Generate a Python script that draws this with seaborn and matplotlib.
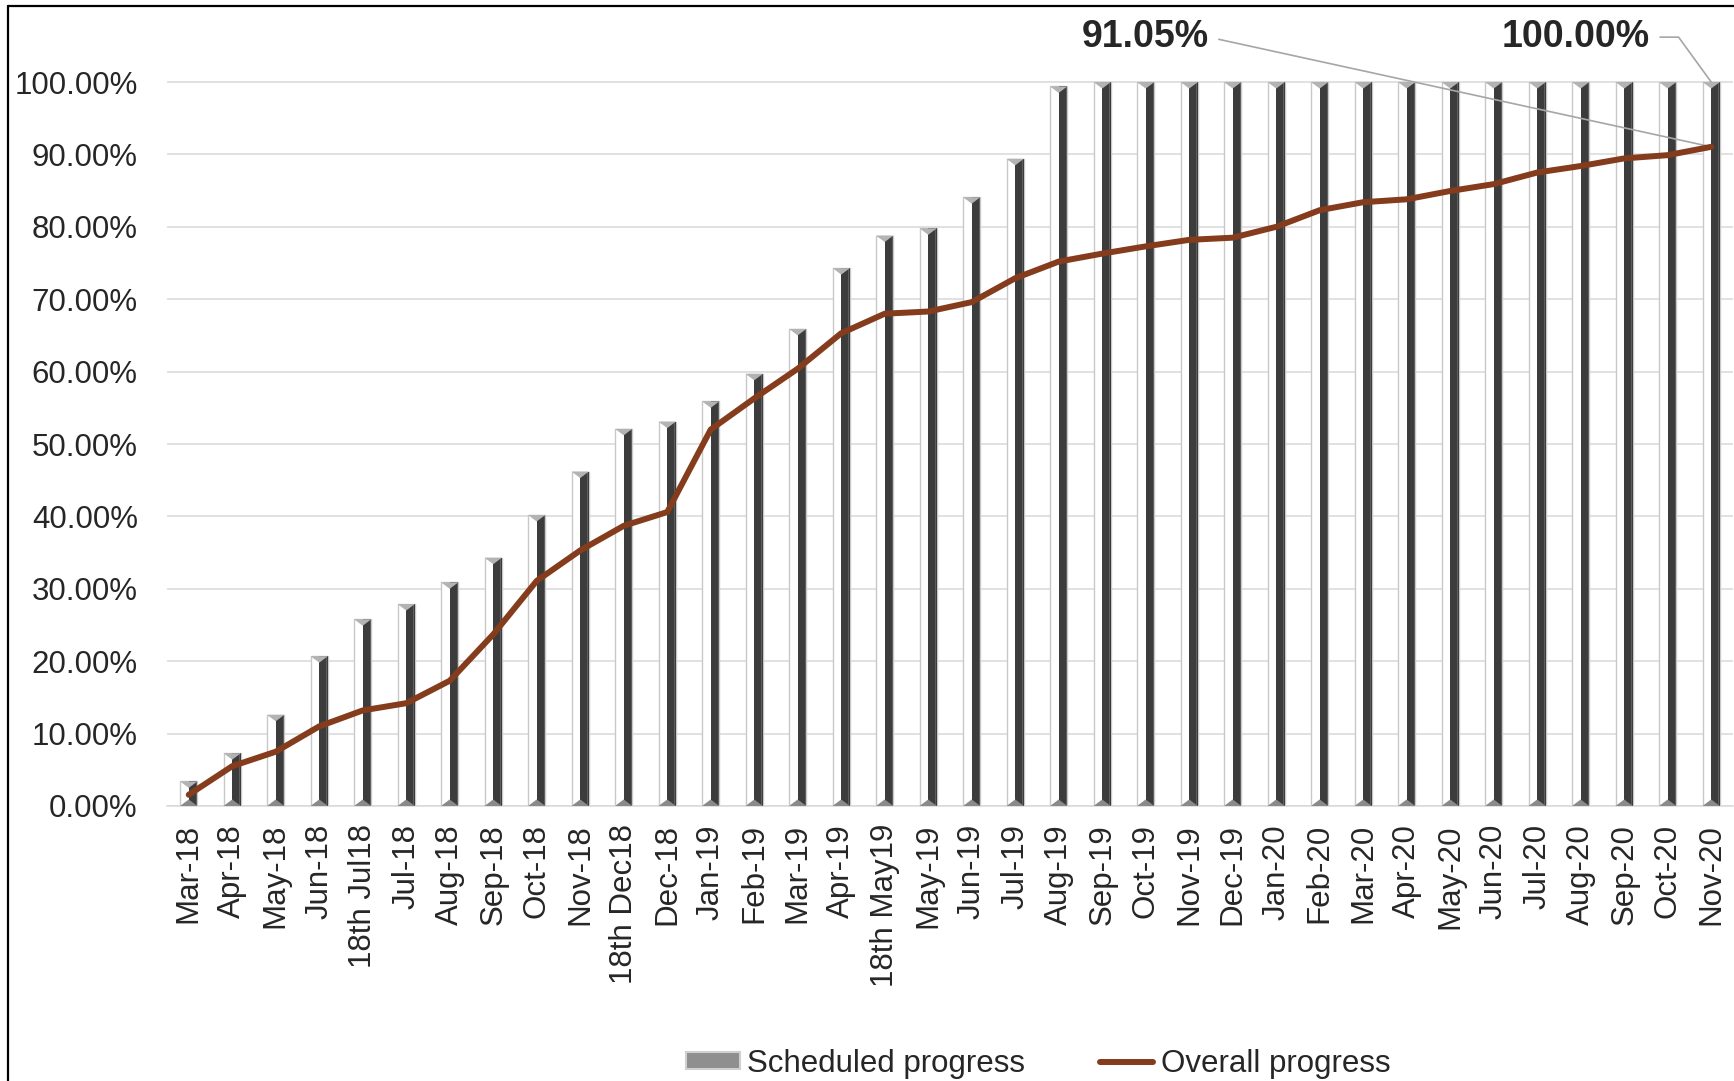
import numpy as np
import pandas as pd
import matplotlib
matplotlib.use("Agg")
import matplotlib.pyplot as plt
from matplotlib.patches import Polygon, Patch
from matplotlib.lines import Line2D
from matplotlib.ticker import PercentFormatter
import seaborn as sns

# Monthly progress report data
months = [
    "Mar-18", "Apr-18", "May-18", "Jun-18", "18th Jul18", "Jul-18", "Aug-18",
    "Sep-18", "Oct-18", "Nov-18", "18th Dec18", "Dec-18", "Jan-19", "Feb-19",
    "Mar-19", "Apr-19", "18th May19", "May-19", "Jun-19", "Jul-19", "Aug-19",
    "Sep-19", "Oct-19", "Nov-19", "Dec-19", "Jan-20", "Feb-20", "Mar-20",
    "Apr-20", "May-20", "Jun-20", "Jul-20", "Aug-20", "Sep-20", "Oct-20", "Nov-20",
]
scheduled = [
    0.034, 0.073, 0.126, 0.207, 0.258, 0.279, 0.309, 0.343, 0.402, 0.462,
    0.521, 0.531, 0.559, 0.597, 0.659, 0.743, 0.788, 0.798, 0.841, 0.894,
    0.994, 1.0, 1.0, 1.0, 1.0, 1.0, 1.0, 1.0, 1.0, 1.0, 1.0, 1.0, 1.0, 1.0,
    1.0, 1.0,
]
overall = [
    0.0155, 0.055, 0.075, 0.110, 0.132, 0.142, 0.173, 0.237, 0.311, 0.353,
    0.387, 0.406, 0.520, 0.563, 0.604, 0.653, 0.680, 0.683, 0.696, 0.729,
    0.752, 0.763, 0.773, 0.782, 0.785, 0.800, 0.823, 0.834, 0.838, 0.8495,
    0.859, 0.875, 0.884, 0.8945, 0.899, 0.9105,
]
yticks = [0.0, 0.1, 0.2, 0.3, 0.4, 0.5, 0.6, 0.7, 0.8, 0.9, 1.0]

df = pd.DataFrame({"month": months, "scheduled": scheduled, "overall": overall})
n = len(months)
pos = np.arange(n)

sns.set_style("white")
plt.rcParams["font.family"] = ["Liberation Sans", "DejaVu Sans"]

DARK = "#3b3c3b"
LINE = "#843c1c"
GRID = "#d9d9d9"
LEADER = "#a6a6a6"
FS = 22.5

fig = plt.figure(figsize=(17.34, 10.81), dpi=100)
ax = fig.add_axes([0.0963, 0.2544, 0.9031, 0.6882])

# bar width in category units; each bar = white face + dark side + bevels
bw = 0.4
sns.barplot(data=df, x="month", y="scheduled", color="white", width=bw,
            edgecolor="#c8c8c8", linewidth=1.0, saturation=1, ax=ax, zorder=2)
ax.bar(pos + bw / 4, df["scheduled"], width=bw / 2, color=DARK, zorder=3,
       linewidth=0)
ax.bar(pos + bw / 2 - 0.025, df["scheduled"], width=0.03, color="#5e5f5e",
       zorder=3, linewidth=0)
bevel = 0.009
for i, v in enumerate(df["scheduled"]):
    ax.add_patch(Polygon([(i - bw / 2, v), (i + bw / 2, v), (i, v - bevel)],
                         closed=True, facecolor="#b3b3b3", edgecolor="none",
                         zorder=4))
    ax.add_patch(Polygon([(i - bw / 2, 0), (i + bw / 2, 0), (i, bevel)],
                         closed=True, facecolor="#8a8a8a", edgecolor="none",
                         zorder=4))

sns.lineplot(x=pos, y=df["overall"], color=LINE, linewidth=4.3, ax=ax,
             zorder=5, sort=False)

ax.set_xlim(-0.5, n - 0.5)
ax.set_ylim(0, 1.0276)
ax.set_yticks(yticks)
ax.yaxis.set_major_formatter(PercentFormatter(xmax=1, decimals=2))
ax.grid(axis="y", color=GRID, linewidth=1.1, zorder=0)
ax.grid(axis="x", visible=False)
ax.set_axisbelow(True)
ax.set_xlabel("")
ax.set_ylabel("")

ax.set_xticks(pos)
ax.set_xticklabels(months, rotation=90, fontsize=FS)
ax.set_xticks(np.arange(-0.5, n, 1), minor=True)
ax.tick_params(axis="x", which="major", length=0, pad=13)
ax.tick_params(axis="x", which="minor", length=6, width=1.0, color=GRID)
ax.tick_params(axis="y", length=0, pad=21, labelsize=FS)

for side in ("left", "top", "right"):
    ax.spines[side].set_visible(False)
ax.spines["bottom"].set_color(GRID)
ax.spines["bottom"].set_linewidth(1.1)

# value call-outs for the final month
ax.annotate(f"{overall[-1]:.2%}", xy=(n - 1, overall[-1]), xytext=(23.45, 1.062),
            ha="right", va="center", fontsize=27, fontweight="bold",
            annotation_clip=False,
            arrowprops=dict(arrowstyle="-", color=LEADER, lw=1.2,
                            shrinkA=5, shrinkB=0, relpos=(1, 0.5)))
ax.annotate(f"{scheduled[-1]:.2%}", xy=(n - 1, scheduled[-1]), xytext=(33.59, 1.062),
            ha="right", va="center", fontsize=27, fontweight="bold",
            annotation_clip=False,
            arrowprops=dict(arrowstyle="-", color=LEADER, lw=1.2,
                            shrinkA=5, shrinkB=0, relpos=(1, 0.5),
                            connectionstyle="angle,angleA=0,angleB=126,rad=0"))

handles = [
    Patch(facecolor="#8f8f8f", edgecolor="#d0d0d0", linewidth=1.5,
          label="Scheduled progress"),
    Line2D([0], [0], color=LINE, linewidth=4.3, label="Overall progress"),
]
fig.legend(handles=handles, loc="center", bbox_to_anchor=(0.599, 0.0157),
           ncol=2, frameon=False, fontsize=FS, handlelength=1.7,
           handleheight=0.45, handletextpad=0.25, columnspacing=2.4,
           borderaxespad=0, borderpad=0)

# outer chart frame (left and top edges)
fig.add_artist(Line2D([8 / 1734, 8 / 1734], [0, 1 - 6 / 1081], color="black",
                      linewidth=1.6, transform=fig.transFigure))
fig.add_artist(Line2D([8 / 1734, 1], [1 - 6 / 1081, 1 - 6 / 1081], color="black",
                      linewidth=1.6, transform=fig.transFigure))

fig.savefig("out.png", dpi=100)
